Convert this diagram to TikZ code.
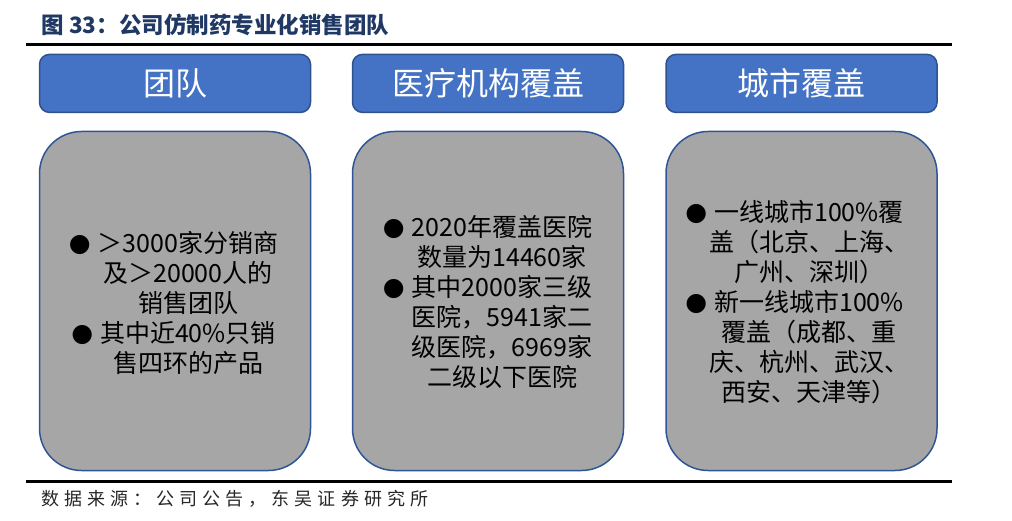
\documentclass[tikz,border=0pt]{standalone}
\usepackage{fontspec}
\newfontfamily\cjk{Noto Sans CJK SC}
\newfontfamily\cjkfoot{Noto Sans CJK SC}[LetterSpace=28]
\newfontfamily\sym{DejaVu Sans}
\definecolor{hdrfill}{HTML}{4472C4}
\definecolor{hdrline}{HTML}{2F528F}
\definecolor{grayfill}{HTML}{A6A6A6}
\definecolor{grayline}{HTML}{2F5597}
\definecolor{titlecol}{HTML}{1F3864}
\newcommand{\bul}{\llap{\raisebox{1pt}{\sym\fontsize{25}{25}\selectfont ●}\hspace{7pt}}}
\begin{document}
\begin{tikzpicture}[x=1pt,y=-1pt,
 hdr/.style={draw=hdrline, fill=hdrfill, line width=1.5pt, rounded corners=10pt, minimum width=271pt, minimum height=58pt, inner sep=0pt, text=white, font=\cjk\fontsize{32}{32}\selectfont},
 panel/.style={draw=grayline, fill=grayfill, line width=1.5pt, rounded corners=42pt, minimum width=271pt, minimum height=339pt, inner sep=0pt},
 body/.style={align=center, inner sep=0pt, font=\cjk\fontsize{25}{30}\selectfont},
 rule/.style={line width=3pt}]
\useasboundingbox (0,0) rectangle (1012,521);
\node[anchor=west, text=titlecol, font=\cjk\bfseries\fontsize{22.5}{22.5}\selectfont] (title) at (38,25) {图 33：公司仿制药专业化销售团队};
\draw[rule] (26,45) -- (952,45);
\draw[rule] (26,481) -- (952,481);
\node[hdr] (h1) at (175,83.4) {团队};
\node[hdr] (h2) at (488,83.4) {医疗机构覆盖};
\node[hdr] (h3) at (801.5,83.4) {城市覆盖};
\node[panel] (p1) at (175,301) {};
\node[panel] (p2) at (488,301) {};
\node[panel] (p3) at (801.5,301) {};
\node[body] (t1) at (188,303) {\bul ＞3000家分销商\\及＞20000人的\\销售团队\\\bul 其中近40\%只销\\售四环的产品};
\node[body] (t2) at (502,302) {\bul 2020年覆盖医院\\数量为14460家\\\bul 其中2000家三级\\医院，5941家二\\级医院，6969家\\二级以下医院};
\node[body] (t3) at (809,302) {\bul 一线城市100\%覆\\盖（北京、上海、\\广州、深圳）\\\bul 新一线城市100\%\\覆盖（成都、重\\庆、杭州、武汉、\\西安、天津等）};
\node[anchor=west, font=\cjkfoot\fontsize{18}{18}\selectfont, text=black!85] (src) at (38,499) {数据来源：公司公告，东吴证券研究所};
\end{tikzpicture}
\end{document}
